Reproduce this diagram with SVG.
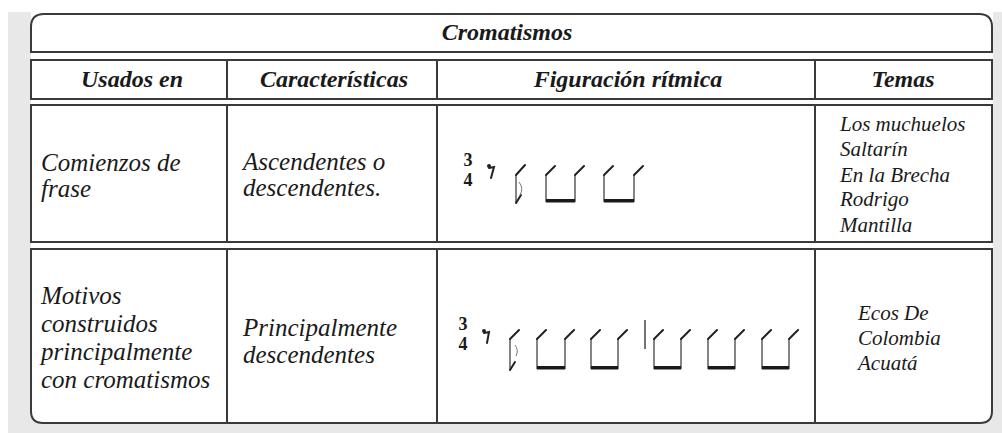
<svg xmlns="http://www.w3.org/2000/svg" width="1002" height="433" viewBox="0 0 1002 433">
<style>
.box{fill:#fff;stroke:#3a3a3a;stroke-width:2}
.div{stroke:#3a3a3a;stroke-width:2}
.hd{font-family:"Liberation Serif",serif;font-style:italic;font-weight:bold;font-size:24px;fill:#1a1a1a;text-anchor:middle}
.tx{font-family:"Liberation Serif",serif;font-style:italic;font-size:25px;fill:#1a1a1a}
.tm{font-family:"Liberation Serif",serif;font-style:italic;font-size:21px;fill:#1a1a1a}
.ts{font-family:"Liberation Serif",serif;font-weight:bold;font-size:18px;fill:#1a1a1a;text-anchor:middle}
.stem{stroke:#666;stroke-width:1.6;fill:none}
.flag{stroke:#222;stroke-width:2;fill:none;stroke-linecap:round}
.beam{fill:#1a1a1a}
.bar{stroke:#444;stroke-width:1.5}
</style>
<rect x="0" y="0" width="1002" height="433" fill="#fff"/>
<rect x="8" y="12" width="994" height="421" fill="#e8e8e8"/>
<rect x="31" y="12" width="962" height="400" fill="#fff"/>

<g id="title">
<path class="box" d="M31,52 V27 Q31,14 44,14 H979 Q992,14 992,27 V52 Z"/>
<text class="hd" x="507" y="40">Cromatismos</text>
</g>

<g id="header">
<rect class="box" x="31" y="60" width="961" height="39"/>
<line class="div" x1="227" y1="60" x2="227" y2="99"/>
<line class="div" x1="437" y1="60" x2="437" y2="99"/>
<line class="div" x1="815" y1="60" x2="815" y2="99"/>
<text class="hd" x="132" y="87">Usados en</text>
<text class="hd" x="334" y="87">Características</text>
<text class="hd" x="628" y="87">Figuración rítmica</text>
<text class="hd" x="903" y="87">Temas</text>
</g>

<g id="row1">
<rect class="box" x="31" y="105" width="961" height="137"/>
<line class="div" x1="227" y1="105" x2="227" y2="242"/>
<line class="div" x1="437" y1="105" x2="437" y2="242"/>
<line class="div" x1="815" y1="105" x2="815" y2="242"/>
<text class="tx" x="41" y="171">Comienzos de</text>
<text class="tx" x="41" y="197">frase</text>
<text class="tx" x="243" y="170">Ascendentes o</text>
<text class="tx" x="243" y="196">descendentes.</text>
<text class="tm" x="840" y="131">Los muchuelos</text>
<text class="tm" x="840" y="156">Saltarín</text>
<text class="tm" x="840" y="182">En la Brecha</text>
<text class="tm" x="840" y="206">Rodrigo</text>
<text class="tm" x="840" y="232">Mantilla</text>
<g id="rhythm1">
<text class="ts" x="468" y="166">3</text>
<text class="ts" x="468" y="186">4</text>
<circle cx="489" cy="166" r="2" fill="#222"/>
<path class="flag" d="M489,168 L494,167 L491,178" stroke-width="1.4"/>
<path class="stem" d="M516,175 V203"/>
<path class="flag" d="M516,175 L525,165 M516,203 L521,195"/>
<path d="M519,182 Q524,188 520,195" fill="none" stroke="#777" stroke-width="1"/>
<path class="stem" d="M546,175 V202 M575,175 V202 M604,175 V202 M634,175 V202"/>
<path class="flag" d="M546,175 L555,166 M575,175 L584,166 M604,175 L613,166 M634,175 L643,166"/>
<rect class="beam" x="546" y="199" width="29" height="3.5"/>
<rect class="beam" x="604" y="199" width="30" height="3.5"/>
</g>
</g>

<g id="row2">
<path class="box" d="M31,249 H992 V411 Q992,423 980,423 H43 Q31,423 31,411 Z"/>
<line class="div" x1="227" y1="249" x2="227" y2="423"/>
<line class="div" x1="437" y1="249" x2="437" y2="423"/>
<line class="div" x1="815" y1="249" x2="815" y2="423"/>
<text class="tx" x="41" y="304">Motivos</text>
<text class="tx" x="41" y="332">construidos</text>
<text class="tx" x="41" y="360">principalmente</text>
<text class="tx" x="41" y="388">con cromatismos</text>
<text class="tx" x="243" y="336">Principalmente</text>
<text class="tx" x="243" y="363">descendentes</text>
<text class="tm" x="858" y="320">Ecos De</text>
<text class="tm" x="858" y="345">Colombia</text>
<text class="tm" x="858" y="370">Acuatá</text>
<g id="rhythm2">
<text class="ts" x="463" y="330">3</text>
<text class="ts" x="463" y="350">4</text>
<circle cx="484" cy="331" r="2" fill="#222"/>
<path class="flag" d="M484,333 L489,332 L487,343" stroke-width="1.4"/>
<path class="stem" d="M510,339 V370"/>
<path class="flag" d="M510,339 L519,330 M510,370 L515,362"/>
<path d="M515,345 Q519,350 516,356" fill="none" stroke="#777" stroke-width="1"/>
<path class="stem" d="M537,339 V369 M565,339 V369 M591,339 V369 M618,339 V369 M654,339 V369 M681,339 V369 M708,339 V369 M735,339 V369 M762,339 V369 M789,339 V369"/>
<path class="flag" d="M537,339 L546,330 M565,339 L574,330 M591,339 L600,330 M618,339 L627,330 M654,339 L663,330 M681,339 L690,330 M708,339 L717,330 M735,339 L744,330 M762,339 L771,330 M789,339 L798,330"/>
<rect class="beam" x="537" y="366" width="28" height="3.5"/>
<rect class="beam" x="591" y="366" width="27" height="3.5"/>
<rect class="beam" x="654" y="366" width="27" height="3.5"/>
<rect class="beam" x="708" y="366" width="27" height="3.5"/>
<rect class="beam" x="762" y="366" width="27" height="3.5"/>
<line class="bar" x1="645" y1="320" x2="645" y2="349"/>
</g>
</g>
</svg>
